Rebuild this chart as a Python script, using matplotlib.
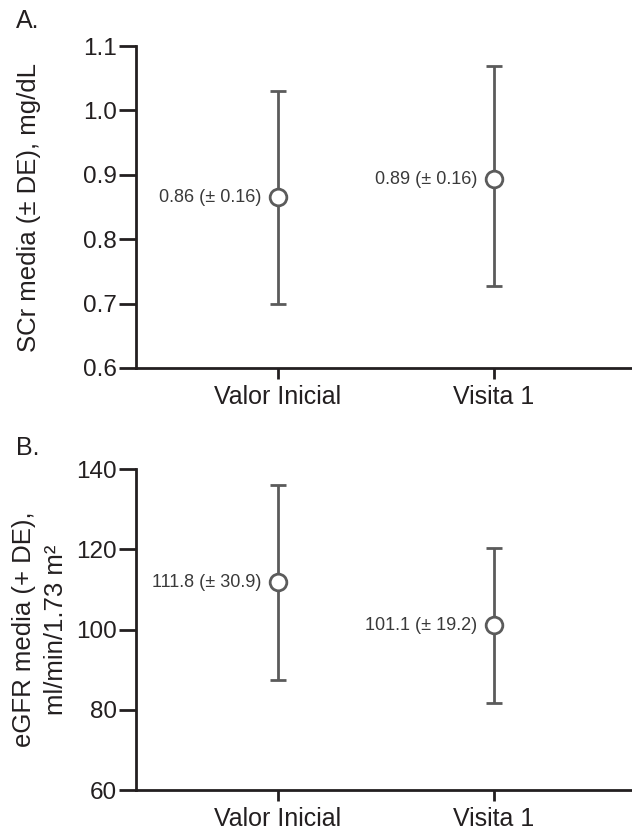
"""SCr and eGFR mean (+/- SD) at baseline and visit 1."""

import matplotlib

matplotlib.use("Agg")
import matplotlib.pyplot as plt

categories = ["Valor Inicial", "Visita 1"]

scr_mean = [0.865, 0.893]
scr_low = [0.699, 0.727]
scr_high = [1.030, 1.069]
scr_labels = ["0.86 (± 0.16)", "0.89 (± 0.16)"]

egfr_mean = [111.8, 101.1]
egfr_low = [87.5, 81.8]
egfr_high = [136.0, 120.4]
egfr_labels = ["111.8 (± 30.9)", "101.1 (± 19.2)"]

scr_ticks = [0.6, 0.7, 0.8, 0.9, 1.0, 1.1]
egfr_ticks = [60, 80, 100, 120, 140]

INK = "#231f20"
BAR = "#5b5b5b"

plt.rcParams["font.family"] = ["Liberation Sans", "DejaVu Sans"]


def draw_panel(ax, mean, low, high, labels, ticks, tick_fmt):
    x = list(range(len(categories)))
    yerr = [[m - lo for m, lo in zip(mean, low)], [hi - m for m, hi in zip(mean, high)]]
    ax.errorbar(
        x, mean, yerr=yerr, fmt="o", color=BAR, ecolor=BAR, elinewidth=2.0,
        capsize=6, capthick=2.5, markersize=12, markerfacecolor="white",
        markeredgecolor=BAR, markeredgewidth=2.0, zorder=3,
    )
    for xi, m, lab in zip(x, mean, labels):
        ax.annotate(lab, (xi, m), xytext=(-12, 0), textcoords="offset points",
                    ha="right", va="center", fontsize=13, color="#3a3a3a")
    ax.set_xlim(-0.657, 1.639)
    ax.set_ylim(ticks[0], ticks[-1])
    ax.set_xticks(x)
    ax.set_xticklabels(categories, fontsize=18, color=INK)
    ax.set_yticks(ticks)
    ax.set_yticklabels([tick_fmt.format(t) for t in ticks], fontsize=17.5, color=INK)
    for side in ("top", "right"):
        ax.spines[side].set_visible(False)
    for side in ("left", "bottom"):
        ax.spines[side].set_linewidth(2.0)
        ax.spines[side].set_color(INK)
    ax.tick_params(axis="y", length=12, width=2.0, color=INK, pad=2)
    ax.tick_params(axis="x", length=8, width=2.0, color=INK, pad=4)


fig = plt.figure(figsize=(6.32, 8.31), dpi=100)
ax_a = fig.add_axes([0.2152, 0.5572, 0.7848, 0.3874])
ax_b = fig.add_axes([0.2152, 0.0493, 0.7848, 0.3863])

draw_panel(ax_a, scr_mean, scr_low, scr_high, scr_labels, scr_ticks, "{:.1f}")
draw_panel(ax_b, egfr_mean, egfr_low, egfr_high, egfr_labels, egfr_ticks, "{:d}")

ax_a.set_ylabel("SCr media (± DE), mg/dL", fontsize=18.5, color=INK)
ax_a.yaxis.set_label_coords(-0.192, 0.5)
ax_b.set_ylabel("eGFR media (+ DE),\nml/min/1.73 m²", fontsize=18.5, color=INK,
                linespacing=1.45)
ax_b.yaxis.set_label_coords(-0.137, 0.5)

fig.text(16 / 632, 1 - 28 / 831, "A.", fontsize=18, color=INK, va="baseline")
fig.text(16 / 632, 1 - 455 / 831, "B.", fontsize=18, color=INK, va="baseline")

fig.savefig("out.png", dpi=100)
